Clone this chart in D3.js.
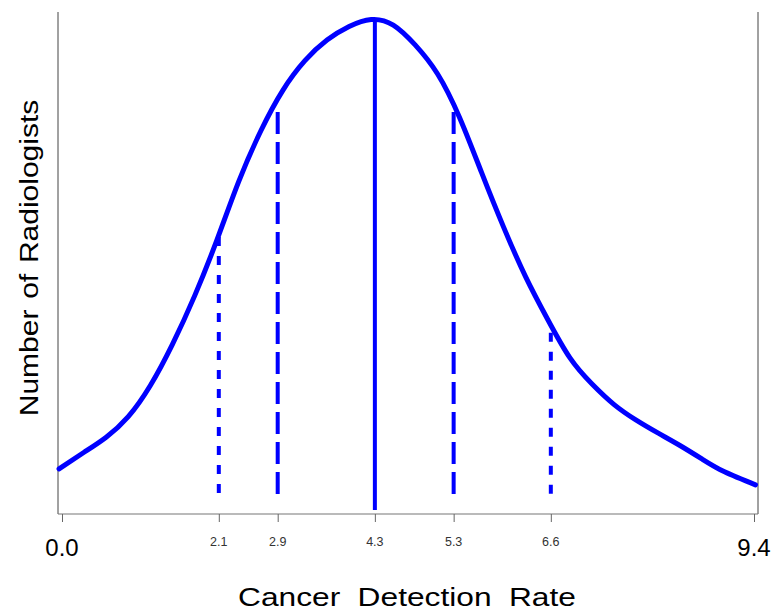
<!DOCTYPE html>
<html>
<head>
<meta charset="utf-8">
<script src="https://cdn.jsdelivr.net/npm/d3@7"></script>
<style>
  html, body { margin: 0; padding: 0; background: #fff; }
  svg { display: block; }
  text { font-family: "Liberation Sans", Arial, Helvetica, sans-serif; fill: #000; }
</style>
</head>
<body>
<svg id="chart" width="773" height="616"></svg>
<script>
// ---- data ----
const curveRate  = [-0.04, 0.3, 0.6, 0.9, 1.2, 1.5, 1.8, 2.1, 2.4, 2.7, 3.0, 3.3, 3.6, 3.9, 4.2, 4.5, 4.8, 5.1, 5.4, 5.7, 6.0, 6.3, 6.6, 6.9, 7.2, 7.5, 7.8, 8.1, 8.4, 8.7, 9.0, 9.42];
const curveCount = [9.0, 12.3, 15.3, 19.4, 25.6, 33.8, 43.4, 54.4, 66.2, 76.3, 84.4, 90.3, 94.4, 97.1, 98.5, 97.4, 93.4, 87.7, 79.0, 68.0, 57.1, 47.2, 38.7, 31.1, 25.9, 21.8, 18.7, 16.1, 13.6, 10.9, 8.4, 5.8];

const refNames  = ["10th percentile", "25th percentile", "median", "75th percentile", "90th percentile"];
const refValues = [2.13, 2.93, 4.25, 5.32, 6.64];
const refLabels = ["2.1", "2.9", "4.3", "5.3", "6.6"];
const refTops   = [55.2, 80.1, 98.4, 80.1, 36.1];
const refBases  = [2.8, 2.8, 0.8, 2.8, 2.8];

const endValues = [0, 9.4];
const endLabels = ["0.0", "9.4"];

const xTitle = "Cancer Detection Rate";
const yTitle = "Number of Radiologists";

// ---- layout ----
const frame = { left: 58, right: 758, top: 12, bottom: 514 };
const svg = d3.select("#chart");

const x = d3.scaleLinear().domain([0, 9.4]).range([62, 754]);
const y = d3.scaleLinear().domain([0, 100]).range([frame.bottom, frame.top]);

const blue = "#0000ff";
const dashFor = {
  "10th percentile": "9,10",
  "25th percentile": "22,8",
  "median": null,
  "75th percentile": "22,8",
  "90th percentile": "9,10"
};

// frame lines
svg.append("line").attr("x1", frame.left).attr("x2", frame.left)
  .attr("y1", frame.top).attr("y2", frame.bottom).attr("stroke", "#444").attr("stroke-width", 1);
svg.append("line").attr("x1", frame.right).attr("x2", frame.right)
  .attr("y1", frame.top).attr("y2", frame.bottom).attr("stroke", "#444").attr("stroke-width", 1);

// bottom axis with ticks
const allTicks = endValues.concat(refValues);
const xAxis = d3.axisBottom(x).tickValues(allTicks).tickSize(8).tickFormat("");
const gAxis = svg.append("g").attr("transform", `translate(0,${frame.bottom})`).call(xAxis);
gAxis.select(".domain").attr("d", `M${frame.left},0H${frame.right}`).attr("stroke", "#777").attr("stroke-width", 1.2);
gAxis.selectAll(".tick line").attr("stroke", "#666").attr("stroke-width", 1);

// small tick labels
svg.append("g").selectAll("text").data(refValues).join("text")
  .attr("x", d => x(d)).attr("y", 546)
  .attr("text-anchor", "middle").attr("font-size", 12.5)
  .style("fill", "#333")
  .text((d, i) => refLabels[i]);

// end labels
svg.append("g").selectAll("text").data(endValues).join("text")
  .attr("x", d => x(d)).attr("y", 556)
  .attr("text-anchor", "middle").attr("font-size", 24)
  .text((d, i) => endLabels[i]);

// reference lines (dash pattern starts at the top)
svg.append("g").selectAll("line").data(refValues).join("line")
  .attr("x1", d => x(d)).attr("x2", d => x(d))
  .attr("y1", (d, i) => y(refTops[i]))
  .attr("y2", (d, i) => y(refBases[i]))
  .attr("stroke", blue).attr("stroke-width", 4)
  .attr("stroke-dasharray", (d, i) => dashFor[refNames[i]]);

// curve
const pts = curveRate.map((r, i) => [r, curveCount[i]]);
const line = d3.line().x(d => x(d[0])).y(d => y(d[1])).curve(d3.curveNatural);
svg.append("path").datum(pts).attr("d", line)
  .attr("fill", "none").attr("stroke", blue).attr("stroke-width", 5)
  .attr("stroke-linejoin", "round").attr("stroke-linecap", "round");

// titles
svg.append("text")
  .attr("transform", "translate(407,606) scale(1.22,1)")
  .attr("text-anchor", "middle").attr("font-size", 26).attr("word-spacing", 7)
  .text(xTitle);

svg.append("text")
  .attr("transform", "translate(38,258) rotate(-90) scale(1.2,1)")
  .attr("text-anchor", "middle").attr("font-size", 25).attr("word-spacing", 2)
  .text(yTitle);
</script>
</body>
</html>
